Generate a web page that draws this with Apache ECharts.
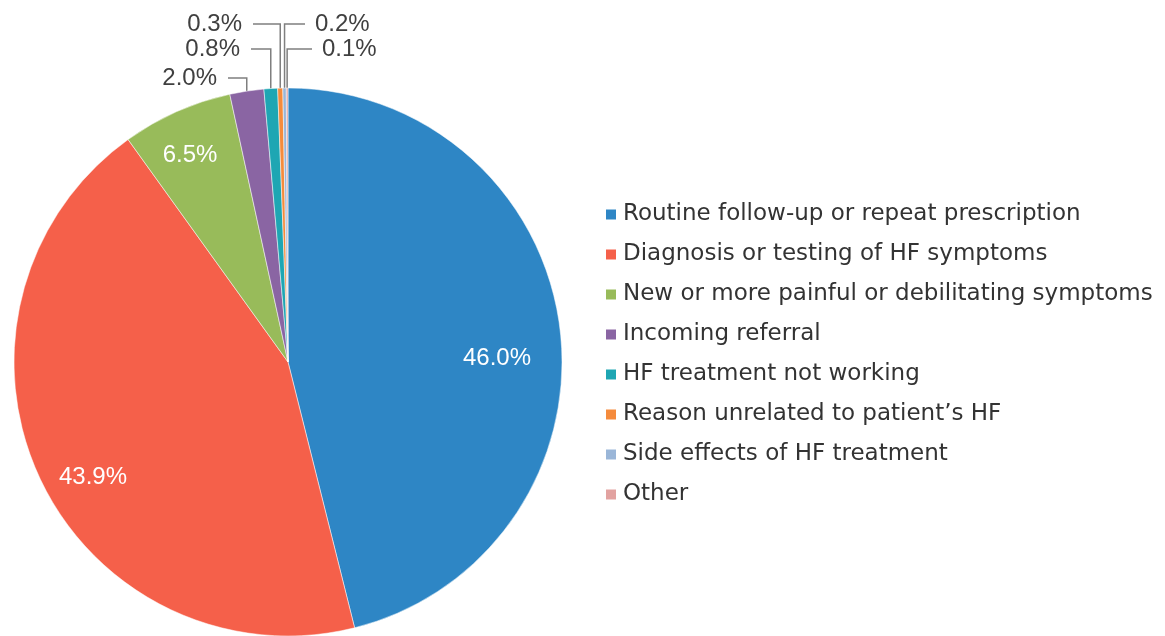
<!DOCTYPE html>
<html>
<head>
<meta charset="utf-8">
<script src="https://cdn.jsdelivr.net/npm/echarts@6/dist/echarts.min.js"></script>
<style>html,body{margin:0;padding:0;background:#fff;}#c{width:1165px;height:636px;}</style>
</head>
<body>
<div id="c"></div>
<script>
const categories = [
  'Routine follow-up or repeat prescription',
  'Diagnosis or testing of HF symptoms',
  'New or more painful or debilitating symptoms',
  'Incoming referral',
  'HF treatment not working',
  "Reason unrelated to patient\u2019s HF",
  'Side effects of HF treatment',
  'Other'
];
const values = [46.0, 43.9, 6.5, 2.0, 0.8, 0.3, 0.2, 0.1];
const colors = ['#2E86C5', '#F5604A', '#98BB5A', '#8A65A3', '#1EA6B3', '#F58B3C', '#9AB6D8', '#E2A2A0'];

const FONT = '"Liberation Sans", Arial, sans-serif';
const LEGEND_FONT = '"DejaVu Sans", sans-serif';
const CX = 288, CY = 362, R = 274;
// label placement (layout, not data)
const labelPlace = [
  {x: 497, y: 358, align: 'center'},
  {x: 93, y: 477, align: 'center'},
  {x: 190, y: 155, align: 'center'},
  {x: 217, y: 78, align: 'right', line: true},
  {x: 240, y: 49, align: 'right', line: true},
  {x: 242, y: 24, align: 'right', line: true},
  {x: 315, y: 24, align: 'left', line: true},
  {x: 322, y: 49, align: 'left', line: true}
];

const total = values.reduce((a, b) => a + b, 0);
const midAngles = [];
let cum = 0;
values.forEach(v => { midAngles.push((cum + v / 2) / total * Math.PI * 2); cum += v; });

const data = values.map((v, i) => {
  const inside = !labelPlace[i].line;
  return {
    name: categories[i],
    value: v,
    itemStyle: {color: colors[i]},
    label: {
      show: true,
      position: inside ? 'inside' : 'outside',
      color: inside ? '#ffffff' : '#404040',
      fontSize: 24,
      fontFamily: FONT
    },
    labelLine: {show: !inside, lineStyle: {color: '#7f7f7f', width: 1.5}, length: 10, length2: 10}
  };
});

const chart = echarts.init(document.getElementById('c'), null, {renderer: 'canvas'});
chart.setOption({
  animation: false,
  backgroundColor: '#ffffff',
  color: colors,
  legend: {
    orient: 'vertical',
    left: 599,
    top: 198,
    itemWidth: 12,
    itemHeight: 12,
    itemGap: 17,
    icon: 'rect',
    selectedMode: false,
    textStyle: {fontSize: 23, fontFamily: LEGEND_FONT, color: '#333333', padding: [0, 0, 0, 1]},
    data: categories
  },
  series: [{
    type: 'pie',
    center: [CX, CY],
    radius: R,
    startAngle: 90,
    clockwise: true,
    avoidLabelOverlap: false,
    silent: true,
    itemStyle: {borderColor: '#ffffff', borderWidth: 0.5},
    label: {formatter: p => p.value.toFixed(1) + '%'},
    labelLayout: function (params) {
      const i = params.dataIndex;
      const pl = labelPlace[i];
      const res = {x: pl.x, y: pl.y, align: pl.align, verticalAlign: 'middle'};
      if (pl.line) {
        const a = midAngles[i];
        const ex = CX + R * Math.sin(a);
        const ey = CY - R * Math.cos(a);
        const endX = pl.align === 'right' ? pl.x + 11 : pl.x - 10;
        res.labelLinePoints = [[ex, ey], [ex, pl.y], [endX, pl.y]];
      }
      return res;
    },
    data: data
  }]
});
</script>
</body>
</html>
